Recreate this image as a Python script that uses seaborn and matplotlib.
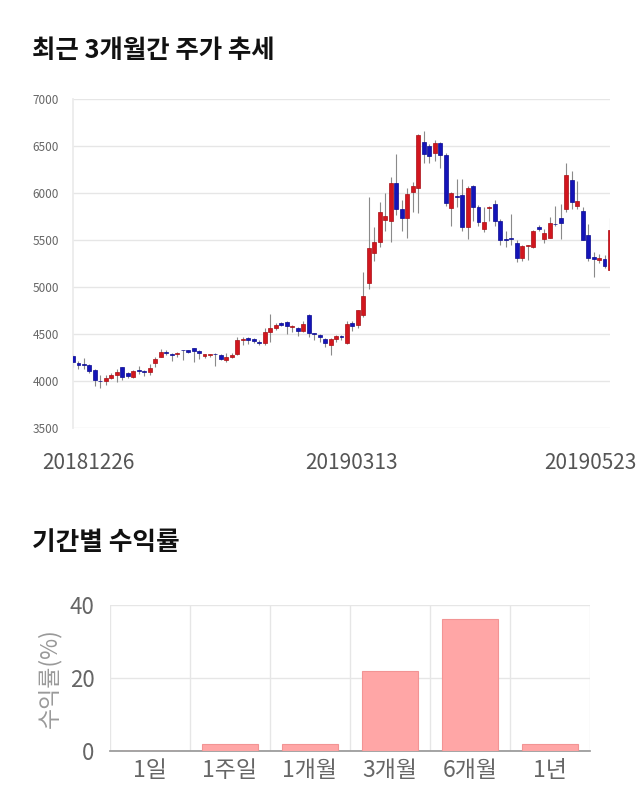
import numpy as np
import pandas as pd
import matplotlib
matplotlib.use('Agg')
import matplotlib.pyplot as plt
import matplotlib.transforms as mtransforms
import seaborn as sns

# --- 1. CORES ---
cor_alta = '#D2161E'    # candle de alta (vermelho)
cor_baixa = '#1414B8'   # candle de baixa (azul)
cor_barra = '#FFA6A6'
cor_grade = '#E6E6E6'

# --- 2. DADOS ---
# rótulos de data (índice do pregão)
datas_rotulos = ['20181226', '20190313', '20190523']
idx_rotulos = [0, 49, 98]

abertura = [4270, 4195, 4185, 4170, 4120, 4005, 3995, 4035, 4060, 4145,
            4080, 4045, 4115, 4105, 4095, 4195, 4260, 4310, 4290, 4283,
            4330, 4330, 4350, 4320, 4270, 4275, 4285, 4280, 4225, 4255,
            4285, 4440, 4460, 4445, 4420, 4405, 4518, 4565, 4620, 4632,
            4571, 4564, 4529, 4707, 4512, 4493, 4450, 4380, 4447, 4475,
            4400, 4614, 4596, 4703, 5043, 5364, 5479, 5714, 5703, 6107,
            5828, 5732, 6014, 6050, 6543, 6500, 6429, 6528, 6400, 5839,
            5960, 5982, 5636, 6071, 5850, 5618, 5838, 5886, 5707, 5510,
            5510, 5464, 5311, 5435, 5429, 5643, 5507, 5525, 5670, 5729,
            5829, 6139, 5857, 5804, 5554, 5321, 5282, 5293, 5186]
fechamento = [4200, 4175, 4175, 4110, 4010, 3995, 4035, 4065, 4100, 4040,
              4050, 4110, 4105, 4095, 4135, 4230, 4305, 4300, 4280, 4300,
              4325, 4305, 4315, 4295, 4285, 4280, 4283, 4235, 4260, 4280,
              4440, 4445, 4435, 4430, 4405, 4518, 4565, 4593, 4600, 4590,
              4582, 4529, 4610, 4511, 4500, 4468, 4404, 4450, 4482, 4470,
              4607, 4586, 4750, 4900, 5411, 5482, 5793, 5757, 6107, 5828,
              5732, 5989, 6078, 6621, 6418, 6393, 6528, 6400, 5893, 6000,
              5955, 5636, 6054, 5850, 5689, 5696, 5845, 5707, 5500, 5505,
              5507, 5304, 5436, 5440, 5596, 5614, 5571, 5686, 5665, 5686,
              6196, 5907, 5918, 5500, 5304, 5293, 5311, 5221, 5604]
maxima = [4290, 4210, 4240, 4180, 4130, 4060, 4060, 4080, 4130, 4150,
          4100, 4120, 4160, 4120, 4180, 4260, 4340, 4330, 4300, 4310,
          4335, 4335, 4355, 4325, 4290, 4290, 4295, 4285, 4300, 4300,
          4470, 4470, 4470, 4460, 4435, 4560, 4710, 4620, 4630, 4640,
          4600, 4575, 4640, 4710, 4515, 4500, 4460, 4460, 4490, 4490,
          4640, 4640, 4760, 5160, 5960, 5640, 5900, 6000, 6170, 6420,
          5930, 6050, 6120, 6630, 6657, 6520, 6560, 6540, 6430, 6010,
          6150, 6150, 6070, 6080, 5870, 5850, 5860, 5930, 5720, 5600,
          5775, 5500, 5450, 5450, 5610, 5660, 5620, 5750, 5864, 5880,
          6320, 6230, 6132, 5850, 5668, 5370, 5350, 5340, 5739]
minima = [4150, 4130, 4130, 4090, 3950, 3930, 3960, 4020, 3990, 4010,
          4030, 4030, 4075, 4050, 4060, 4150, 4250, 4280, 4210, 4260,
          4220, 4300, 4200, 4230, 4240, 4250, 4160, 4220, 4200, 4240,
          4280, 4380, 4390, 4400, 4380, 4380, 4420, 4540, 4590, 4500,
          4520, 4480, 4520, 4470, 4440, 4410, 4360, 4280, 4420, 4440,
          4390, 4530, 4560, 4680, 4980, 5275, 5430, 5600, 5480, 5770,
          5600, 5525, 5800, 5790, 6320, 6320, 6340, 6270, 5860, 5650,
          5850, 5600, 5507, 5704, 5650, 5580, 5700, 5650, 5450, 5430,
          5450, 5270, 5275, 5290, 5420, 5600, 5470, 5520, 5650, 5507,
          5800, 5830, 5830, 5500, 5280, 5107, 5250, 5200, 5180]

periodos = ['1일', '1주일', '1개월', '3개월', '6개월', '1년']
retornos = [0.0, 1.9, 1.9, 22.0, 36.1, 1.9]

# --- 3. TEMA ---
sns.set_theme(style='white')
plt.rcParams['font.family'] = ['Noto Sans CJK KR', 'DejaVu Sans']

fig = plt.figure(figsize=(6.4, 8.1), dpi=100)

# --- 4. GRÁFICO DE CANDLES ---
ax1 = fig.add_axes([73 / 640, 1 - 428 / 810, 537 / 640, 329 / 810])
o = np.array(abertura, dtype=float)
c = np.array(fechamento, dtype=float)
x = np.arange(len(o))
alta = c >= o
cores = np.where(alta, cor_alta, cor_baixa)
bordas = np.where(alta, '#A80E14', '#0A0A90')

ax1.vlines(x, minima, maxima, color='#8A8A8A', linewidth=0.8, zorder=2)
ax1.bar(x, np.maximum(np.abs(c - o), 9), bottom=np.minimum(o, c), width=0.72,
        color=cores, edgecolor=bordas, linewidth=0.5, zorder=3)

ax1.set_xlim(0, 98)
ax1.set_ylim(3500, 7000)
ax1.set_yticks(np.arange(3500, 7001, 500))
ax1.grid(axis='y', color=cor_grade, linewidth=1)
ax1.set_axisbelow(True)
for lado in ['top', 'right', 'bottom']:
    ax1.spines[lado].set_visible(False)
ax1.spines['left'].set_color('#EBEBEB')
ax1.tick_params(axis='y', length=9, color=cor_grade, labelsize=8.5,
                labelcolor='#666666', pad=1)
ax1.set_xticks(idx_rotulos)
ax1.set_xticklabels(datas_rotulos)
ax1.tick_params(axis='x', length=0, labelsize=15, labelcolor='#555555', pad=17)
deslocamentos = [15, 10, -20]
for rotulo, dx in zip(ax1.get_xticklabels(), deslocamentos):
    rotulo.set_transform(rotulo.get_transform() +
                         mtransforms.ScaledTranslation(dx / 100, 0, fig.dpi_scale_trans))

fig.text(32 / 640, 1 - 50 / 810, '최근 3개월간 주가 추세', fontsize=18.3,
         fontweight='bold', color='#111111', va='center', ha='left')

# --- 5. GRÁFICO DE RETORNOS ---
ax2 = fig.add_axes([110 / 640, 1 - 751 / 810, 480 / 640, 146 / 810])
df_ret = pd.DataFrame({'periodo': periodos, 'retorno': retornos})
sns.barplot(data=df_ret, x='periodo', y='retorno', ax=ax2, color=cor_barra,
            saturation=1, width=0.7, edgecolor='#F29494', linewidth=0.8,
            errorbar=None, zorder=3)

ax2.set_xlim(-0.5, 5.5)
ax2.set_ylim(0, 40)
ax2.set_yticks([0, 20, 40])
ax2.set_xticks(np.arange(-0.5, 6, 1), minor=True)
ax2.grid(axis='y', color=cor_grade, linewidth=1)
ax2.grid(axis='x', which='minor', color=cor_grade, linewidth=1)
ax2.set_axisbelow(True)
for lado in ['top', 'right', 'left']:
    ax2.spines[lado].set_visible(False)
ax2.spines['bottom'].set_color('#999999')
ax2.tick_params(axis='x', which='minor', length=10, color=cor_grade)
ax2.tick_params(axis='x', which='major', length=0, labelsize=16.5,
                labelcolor='#666666', pad=6)
ax2.tick_params(axis='y', length=10, color=cor_grade, labelsize=16,
                labelcolor='#666666', pad=1)
ax2.set_xlabel('')
ax2.set_ylabel('수익률(%)', fontsize=16.5, color='#999999', labelpad=6)

fig.text(32 / 640, 1 - 543 / 810, '기간별 수익률', fontsize=18.5,
         fontweight='bold', color='#111111', va='center', ha='left')

fig.savefig('out.png', dpi=100)
